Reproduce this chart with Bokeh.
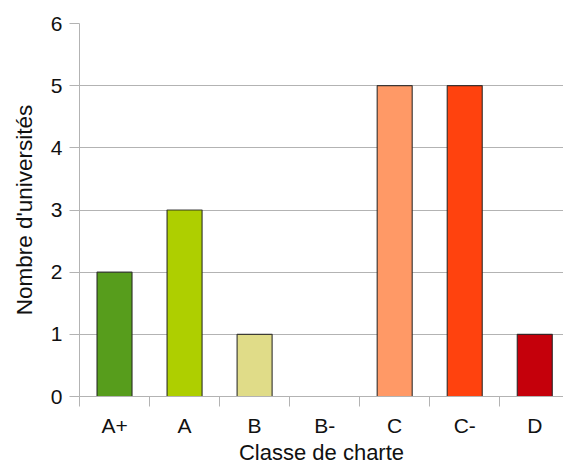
from bokeh.plotting import figure
from bokeh.models import Range1d, FixedTicker, ColumnDataSource
from bokeh.embed import file_html
from bokeh.resources import INLINE

categories = ["A+", "A", "B", "B-", "C", "C-", "D"]
counts = [2, 3, 1, 0, 5, 5, 1]
colors = ["#579d1c", "#aecf00", "#e0dc88", "#ffd320", "#ff9966", "#ff420e", "#c5000b"]
y_ticks = [0, 1, 2, 3, 4, 5, 6]

centers = [i + 0.5 for i in range(len(categories))]
bounds = list(range(len(categories) + 1))

src = ColumnDataSource(dict(x=centers, top=counts, color=colors))

p = figure(width=563, height=467, output_backend="svg", toolbar_location=None,
           x_range=Range1d(0, 6.91), y_range=Range1d(0, 6),
           min_border_left=79, min_border_right=0, min_border_top=23, min_border_bottom=70)
p.outline_line_color = None
p.background_fill_color = "white"
p.border_fill_color = "white"

p.vbar(x="x", top="top", width=0.5, bottom=0, fill_color="color",
       line_color="#222222", line_alpha=0.85, line_width=1.2, source=src)

font = "Liberation Sans"
# x axis
xa = p.xaxis[0]
xa.ticker = FixedTicker(ticks=centers, minor_ticks=bounds)
xa.major_label_overrides = {c: lab for c, lab in zip(centers, categories)}
xa.major_tick_out = 0
xa.major_tick_in = 0
xa.minor_tick_out = 10
xa.minor_tick_in = 0
xa.minor_tick_line_color = "#b3b3b3"
xa.axis_line_color = "#b3b3b3"
xa.major_label_standoff = 7
xa.major_label_text_font = font
xa.major_label_text_font_size = "21px"
xa.major_label_text_color = "#111111"
xa.axis_label = "Classe de charte"
xa.axis_label_text_font = font
xa.axis_label_text_font_size = "22px"
xa.axis_label_text_font_style = "normal"
xa.axis_label_text_color = "#111111"
xa.axis_label_standoff = 0

ya = p.yaxis[0]
ya.ticker = FixedTicker(ticks=y_ticks)
ya.major_tick_out = 10
ya.major_tick_in = 0
ya.minor_tick_line_color = None
ya.major_tick_line_color = "#b3b3b3"
ya.axis_line_color = "#b3b3b3"
ya.major_label_standoff = 7
ya.major_label_text_font = font
ya.major_label_text_font_size = "21px"
ya.major_label_text_color = "#111111"
ya.axis_label = "Nombre d'universités"
ya.axis_label_text_font = font
ya.axis_label_text_font_size = "22.5px"
ya.axis_label_text_font_style = "normal"
ya.axis_label_text_color = "#111111"
ya.axis_label_standoff = 11

p.xgrid.grid_line_color = None
p.ygrid.ticker = FixedTicker(ticks=y_ticks)
p.ygrid.grid_line_color = "#b3b3b3"

open("out.html", "w").write(file_html(p, INLINE))
